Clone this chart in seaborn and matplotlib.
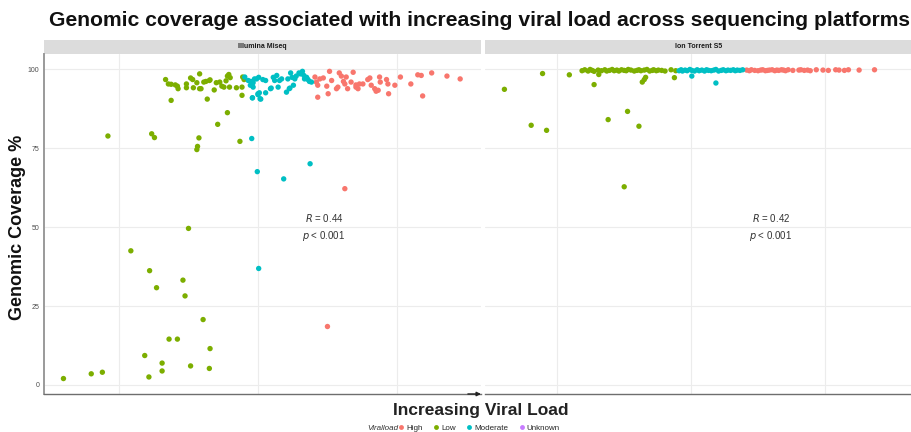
import matplotlib
matplotlib.use("Agg")
import matplotlib.pyplot as plt
from matplotlib.patches import Rectangle
from matplotlib.lines import Line2D
import seaborn as sns
import pandas as pd

# ---- data (x = position along increasing viral load, y = genomic coverage %) ----
platforms = ["Illumina Miseq", "Ion Torrent S5"]
load_levels = ["High", "Low", "Moderate", "Unknown"]
level_colors = ["#F8766D", "#7CAE00", "#00BFC4", "#C77CFF"]

miseq_low_x = [3.20, 3.60, 3.76, 3.84, 4.17, 4.37, 4.43, 4.44, 4.47, 4.51, 4.54, 4.62, 4.62, 4.72,
               4.75, 4.84, 4.92, 4.95, 5.00, 5.03, 5.13, 5.15, 5.12, 5.21, 5.27, 5.30, 5.31, 5.42,
               5.56, 5.74, 5.77,
               4.67, 4.71, 4.75, 4.81, 4.84, 4.85, 4.97, 4.97, 5.03, 5.06, 5.07, 5.12, 5.16, 5.16,
               5.18, 5.22, 5.25, 5.30, 5.31, 5.37, 5.40, 5.45, 5.48, 5.51, 5.54, 5.56, 5.58, 5.59,
               5.60, 5.69, 5.77, 5.78, 5.80]
miseq_low_y = [2.0, 3.5, 4.0, 78.9, 42.5, 9.3, 2.5, 36.2, 79.6, 78.4, 30.8, 6.9, 4.4, 14.5,
               90.2, 14.5, 33.2, 28.2, 49.6, 6.0, 75.6, 78.3, 74.6, 20.7, 90.6, 5.2, 11.5, 82.6,
               86.3, 77.2, 91.8,
               96.8, 95.4, 95.3, 95.1, 94.7, 93.9, 94.2, 95.4, 97.3, 96.8, 94.2, 95.8, 98.6, 93.9,
               93.9, 96.0, 96.2, 96.5, 96.7, 93.5, 95.8, 96.0, 94.7, 94.4, 96.4, 97.9, 98.4, 94.4,
               97.4, 94.2, 94.4, 97.6, 96.8]

miseq_mod_x = [5.81, 5.86, 5.91, 5.93, 5.98, 6.00, 5.92, 6.03,
               5.90, 5.95, 6.01, 6.07, 6.11, 5.89, 5.93, 6.02, 6.00, 5.92, 6.04, 6.11, 6.19, 6.22,
               6.24, 6.27, 6.31, 6.34, 6.18, 6.29, 6.41, 6.45, 6.43, 6.47, 6.49, 6.53, 6.55, 6.59,
               6.61, 6.64, 6.66, 6.67, 6.70, 6.72, 6.74, 6.77, 6.51, 6.46,
               5.91, 5.99, 6.01, 6.37, 6.75]
miseq_mod_y = [97.6, 96.5, 95.4, 94.4, 97.0, 92.3, 91.0, 90.7,
               96.2, 97.0, 97.5, 96.8, 96.5, 95.0, 95.8, 92.6, 92.0, 91.0, 90.6, 92.6, 94.1, 97.5,
               96.5, 98.1, 96.5, 97.0, 93.9, 94.4, 92.8, 93.9, 97.0, 98.9, 97.5, 97.0, 97.9, 98.9,
               98.6, 99.4, 98.1, 97.0, 97.5, 96.8, 96.2, 96.0, 95.0, 94.1,
               78.1, 67.6, 36.9, 65.3, 70.1]

miseq_high_x = [6.82, 6.84, 6.86, 6.89, 6.86, 6.94, 7.01, 7.03, 7.06, 6.99, 7.13, 7.15, 7.17, 7.20,
                7.23, 7.27, 7.25, 7.29, 7.34, 7.37, 7.41, 7.41, 7.44, 7.46, 7.51, 7.58, 7.61, 7.63,
                7.68, 7.70, 7.73, 7.75, 7.76, 7.85, 7.87, 7.88, 7.97, 8.05, 8.20, 8.30, 8.35, 8.37,
                8.50, 8.72, 8.91, 7.25, 7.00]
miseq_high_y = [97.6, 96.0, 95.0, 97.0, 91.2, 97.3, 92.3, 99.4, 96.5, 94.7, 93.9, 94.4, 98.9, 97.9,
                96.2, 97.6, 95.4, 93.9, 96.0, 99.1, 94.4, 95.1, 93.9, 95.4, 95.4, 96.8, 97.3, 95.0,
                93.9, 93.1, 93.4, 97.6, 96.0, 96.8, 95.4, 92.3, 95.0, 97.6, 95.4, 98.3, 98.1, 91.6,
                98.9, 97.9, 97.0, 62.2, 18.5]

ion_low_x = [3.21, 3.61, 3.84, 3.78, 4.18, 4.55, 4.76, 5.05, 5.22, 5.00, 4.62, 5.27, 5.30, 5.32, 5.75,
             4.37, 4.41, 4.46, 4.49, 4.52, 4.55, 4.61, 4.66, 4.71, 4.74, 4.78, 4.82, 4.85, 4.89,
             4.92, 4.96, 5.00, 5.03, 5.06, 5.10, 5.15, 5.19, 5.22, 5.25, 5.30, 5.34, 5.38, 5.42,
             5.44, 5.48, 5.51, 5.56, 5.61, 5.70, 5.77]
ion_low_y = [93.7, 82.3, 80.7, 98.7, 98.3, 95.2, 84.1, 86.7, 82.0, 62.8, 98.4, 96.0, 96.8, 97.5, 97.4,
             99.6, 99.9, 99.5, 100.0, 99.7, 99.4, 99.8, 99.6, 99.9, 99.5, 99.7, 100.0, 99.6, 99.8,
             99.5, 99.9, 99.7, 99.6, 100.0, 99.8, 99.5, 99.7, 99.9, 99.6, 99.8, 100.0, 99.5, 99.7,
             99.9, 99.6, 99.8, 99.7, 99.5, 99.9, 99.6]

ion_mod_x = [5.82, 5.85, 5.87, 5.91, 5.94, 5.98, 6.01, 6.05, 6.09, 6.12, 6.16, 6.20, 6.23, 6.26,
             6.30, 6.34, 6.37, 6.41, 6.45, 6.48, 6.52, 6.55, 6.59, 6.63, 6.66, 6.69, 6.73, 6.77,
             6.01, 6.37]
ion_mod_y = [99.6, 99.9, 99.5, 99.8, 99.6, 100.0, 99.7, 99.5, 99.9, 99.6, 99.8, 99.5, 99.9, 99.7,
             99.6, 99.8, 100.0, 99.5, 99.7, 99.9, 99.6, 99.8, 99.7, 99.9, 99.6, 99.8, 99.7, 99.9,
             97.9, 95.7]

ion_high_x = [6.83, 6.87, 6.90, 6.95, 7.00, 7.04, 7.07, 7.11, 7.14, 7.17, 7.21, 7.25, 7.28, 7.31,
              7.35, 7.38, 7.41, 7.45, 7.52, 7.61, 7.64, 7.69, 7.74, 7.78, 7.87, 7.97, 8.05, 8.16,
              8.21, 8.29, 8.35, 8.51, 8.74]
ion_high_y = [99.8, 99.6, 99.9, 99.7, 99.6, 99.8, 99.9, 99.6, 99.7, 99.8, 99.9, 99.6, 99.8, 99.7,
              99.9, 99.8, 99.6, 99.9, 99.7, 99.8, 99.9, 99.7, 99.8, 99.6, 99.9, 99.8, 99.7, 99.9,
              99.8, 99.7, 99.9, 99.8, 99.9]

stat_r = ["0.44", "0.42"]
stat_p = ["0.001", "0.001"]
stat_x = [6.95, 7.19]

rows = []
for plat, groups in zip(platforms, [
        [("High", miseq_high_x, miseq_high_y), ("Low", miseq_low_x, miseq_low_y),
         ("Moderate", miseq_mod_x, miseq_mod_y)],
        [("High", ion_high_x, ion_high_y), ("Low", ion_low_x, ion_low_y),
         ("Moderate", ion_mod_x, ion_mod_y)]]):
    for lvl, xs, ys in groups:
        for x, y in zip(xs, ys):
            rows.append({"platform": plat, "Viralload": lvl, "load": x, "coverage": y})
df = pd.DataFrame(rows)

sns.set_style("white")
plt.rcParams["font.family"] = ["Liberation Sans", "DejaVu Sans"]

fig = plt.figure(figsize=(9.12, 4.32), dpi=100)
W, H = 912, 432
panels = [(44, 481), (485, 912)]
top_px, bot_px = 54, 394
xlims = [(2.92, 9.21), (2.92, 9.30)]
palette = dict(zip(load_levels, level_colors))

axes = []
for i, plat in enumerate(platforms):
    x0, x1 = panels[i]
    ax = fig.add_axes([x0 / W, 1 - bot_px / H, (x1 - x0) / W, (bot_px - top_px) / H])
    axes.append(ax)
    sub = df[df["platform"] == plat]
    sns.scatterplot(data=sub, x="load", y="coverage", hue="Viralload", hue_order=load_levels,
                    palette=palette, s=15, edgecolor="none", legend=False, ax=ax, zorder=3)
    ax.set_xlim(*xlims[i])
    ax.set_ylim(-2.9, 104.9)
    ax.set_xticks([4, 6, 8])
    ax.set_yticks([0, 25, 50, 75, 100])
    ax.grid(True, color="#ececec", linewidth=0.8, zorder=0)
    ax.set_axisbelow(True)
    ax.set_xlabel("")
    ax.set_ylabel("")
    ax.tick_params(axis="x", length=0, labelbottom=False)
    for s in ["top", "right"]:
        ax.spines[s].set_visible(False)
    ax.spines["bottom"].set_color("#6e6e6e")
    ax.spines["bottom"].set_linewidth(1.0)
    if i == 0:
        ax.spines["left"].set_color("#9a9a9a")
        ax.spines["left"].set_linewidth(1.4)
        ax.tick_params(axis="y", length=2, width=0.6, color="#555555", labelsize=5,
                       labelcolor="#4d4d4d", pad=1.5)
    else:
        ax.spines["left"].set_visible(False)
        ax.tick_params(axis="y", length=0, labelleft=False)

    # facet strip
    ax.add_patch(Rectangle((0, 1.0), 1, 14 / (bot_px - top_px), transform=ax.transAxes,
                           facecolor="#dcdcdc", edgecolor="none", clip_on=False))
    ax.text(0.5, 1.0 + 7 / (bot_px - top_px), plat, transform=ax.transAxes, ha="center",
            va="center", fontsize=5, color="#1a1a1a", fontweight="bold")

    # correlation annotation
    ax.text(stat_x[i], 52.8, f"$R$ = {stat_r[i]}", ha="center", va="center", fontsize=7,
            color="#333333")
    ax.text(stat_x[i], 47.2, f"$p$ < {stat_p[i]}", ha="center", va="center", fontsize=7,
            color="#333333")

# arrow at the end of the first panel's x axis
axes[0].annotate("", xy=(1.0, 0), xytext=(0.97, 0), xycoords="axes fraction",
                 arrowprops=dict(arrowstyle="-|>", color="#222222", lw=1.0,
                                 mutation_scale=6, shrinkA=0, shrinkB=0))

fig.text(480 / W, 1 - 21 / H,
         "Genomic coverage associated with increasing viral load across sequencing platforms",
         ha="center", va="center", fontsize=15.2, fontweight="bold", color="#111111")
fig.text(18 / W, 1 - 227 / H, "Genomic Coverage %", rotation=90, ha="center", va="center",
         fontsize=13, fontweight="bold", color="#111111")
fig.text(481 / W, 1 - 410 / H, "Increasing Viral Load", ha="center", va="center",
         fontsize=12.5, fontweight="bold", color="#222222")

# legend at bottom
handles = [Line2D([], [], marker="o", linestyle="", markersize=3.5, markerfacecolor=c,
                  markeredgecolor="none", label=l) for l, c in zip(load_levels, level_colors)]
fig.text(398 / W, 1 - 428 / H, "Viralload", ha="right", va="center", fontsize=5.8,
         style="italic", color="#333333")
fig.legend(handles=handles, loc="center left", bbox_to_anchor=(398 / W, 1 - 428 / H),
           ncol=4, frameon=False, fontsize=5.8, handletextpad=0.2, columnspacing=1.3,
           handlelength=0.8, borderpad=0, borderaxespad=0)

fig.savefig("out.png", dpi=100)
